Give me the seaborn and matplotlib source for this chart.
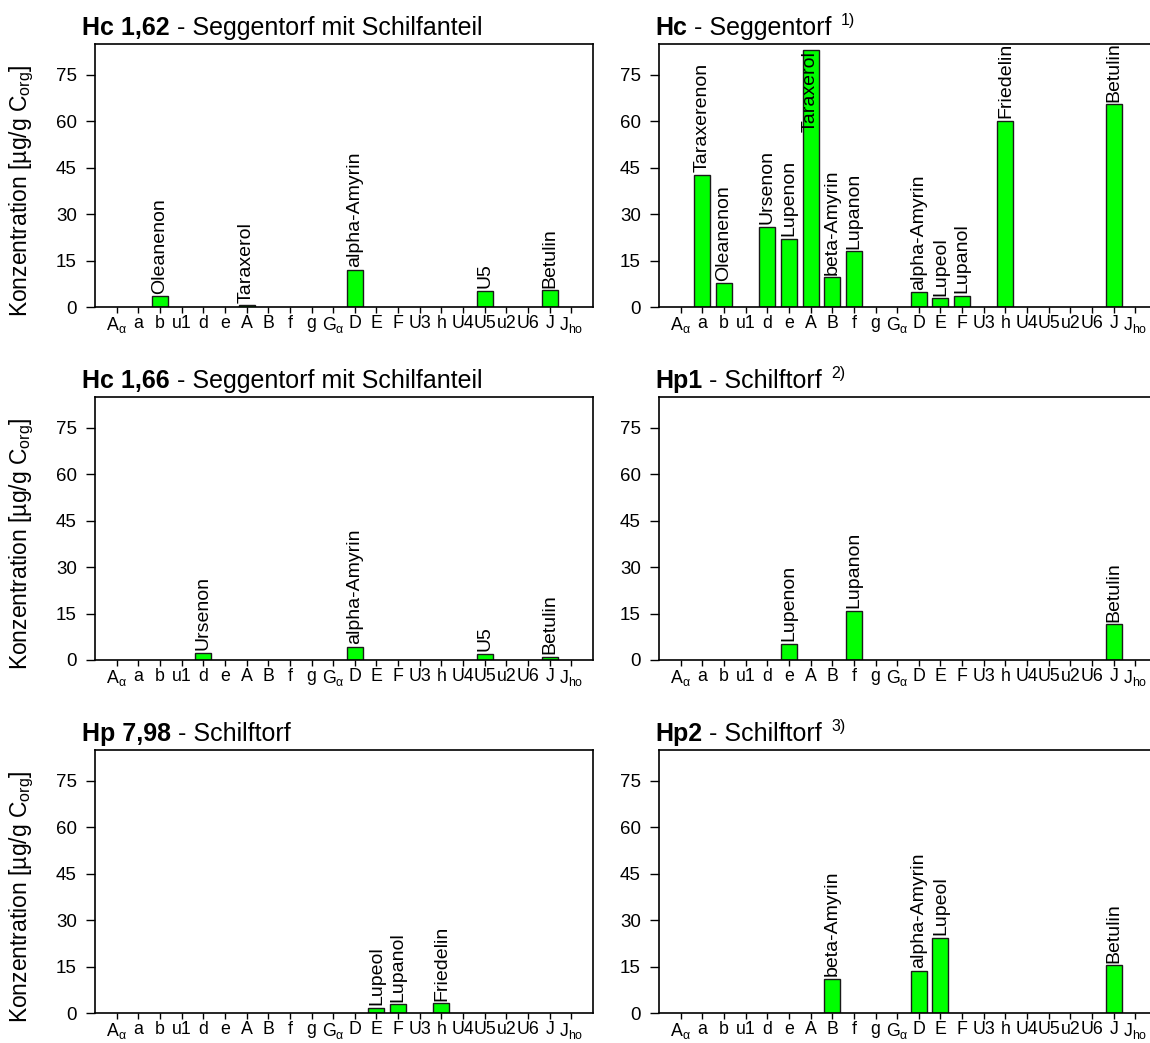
import numpy as np
import pandas as pd
import seaborn as sns
import matplotlib.pyplot as plt

sns.set_style("ticks")
plt.rcParams["font.family"] = ["Liberation Sans", "DejaVu Sans"]
plt.rcParams["mathtext.fontset"] = "custom"
plt.rcParams["mathtext.rm"] = "Liberation Sans"
plt.rcParams["mathtext.it"] = "Liberation Sans"
plt.rcParams["mathtext.default"] = "regular"
for key in ["text.color", "axes.labelcolor", "xtick.color", "ytick.color", "axes.edgecolor"]:
    plt.rcParams[key] = "black"

# Kategorien (Biomarker-Positionen) und Achsenbeschriftung
categories = ["Aα", "a", "b", "u1", "d", "e", "A", "B", "f", "g", "Gα",
              "D", "E", "F", "U3", "h", "U4", "U5", "u2", "U6", "J", "Jho"]
tick_labels = [r"A$_{α}$", "a", "b", "u1", "d", "e", "A", "B", "f", "g", r"G$_{α}$",
               "D", "E", "F", "U3", "h", "U4", "U5", "u2", "U6", "J", r"J$_{ho}$"]

# Hc 1,62
hc162_cat = ["b", "A", "D", "U5", "J"]
hc162_name = ["Oleanenon", "Taraxerol", "alpha-Amyrin", "U5", "Betulin"]
hc162_val = [3.5, 0.5, 12.1, 5.3, 5.5]

# Hc
hc_cat = ["a", "b", "d", "e", "A", "B", "f", "D", "E", "F", "h", "J"]
hc_name = ["Taraxerenon", "Oleanenon", "Ursenon", "Lupenon", "Taraxerol", "beta-Amyrin",
           "Lupanon", "alpha-Amyrin", "Lupeol", "Lupanol", "Friedelin", "Betulin"]
hc_val = [42.7, 7.7, 26.0, 22.0, 83.0, 9.6, 18.1, 4.8, 2.9, 3.6, 60.2, 65.6]

# Hc 1,66
hc166_cat = ["d", "D", "U5", "J"]
hc166_name = ["Ursenon", "alpha-Amyrin", "U5", "Betulin"]
hc166_val = [2.3, 4.3, 2.1, 1.0]

# Hp1
hp1_cat = ["e", "f", "J"]
hp1_name = ["Lupenon", "Lupanon", "Betulin"]
hp1_val = [5.2, 15.9, 11.6]

# Hp 7,98
hp798_cat = ["E", "F", "h"]
hp798_name = ["Lupeol", "Lupanol", "Friedelin"]
hp798_val = [1.7, 2.8, 3.1]

# Hp2
hp2_cat = ["B", "D", "E", "J"]
hp2_name = ["beta-Amyrin", "alpha-Amyrin", "Lupeol", "Betulin"]
hp2_val = [11.0, 13.7, 24.4, 15.4]

panels = [
    ("Hc 1,62", " - Seggentorf mit Schilfanteil", "", hc162_cat, hc162_name, hc162_val),
    ("Hc", " - Seggentorf", "1)", hc_cat, hc_name, hc_val),
    ("Hc 1,66", " - Seggentorf mit Schilfanteil", "", hc166_cat, hc166_name, hc166_val),
    ("Hp1", " - Schilftorf", "2)", hp1_cat, hp1_name, hp1_val),
    ("Hp 7,98", " - Schilftorf", "", hp798_cat, hp798_name, hp798_val),
    ("Hp2", " - Schilftorf", "3)", hp2_cat, hp2_name, hp2_val),
]

W, H = 1150, 1043
fig = plt.figure(figsize=(W / 100, H / 100), dpi=100)

col_left = [95, 659]
row_bottom = [307, 660, 1013]
ax_w, ax_h = 498, 263
ymax = 85

for i, (bold, rest, sup, cats, names, vals) in enumerate(panels):
    r, c = divmod(i, 2)
    ax = fig.add_axes([col_left[c] / W, 1 - row_bottom[r] / H, ax_w / W, ax_h / H])
    df = pd.DataFrame({"cat": cats, "val": vals})
    sns.barplot(data=df, x="cat", y="val", order=categories, color="#00ff00",
                saturation=1, edgecolor="#1a1a1a", linewidth=1.0, width=0.74, ax=ax)

    # Beschriftung senkrecht über dem Balken, bei zu hohen Balken im Balken
    for cat, name, v in zip(cats, names, vals):
        x = categories.index(cat)
        if v + 2.3 * len(name) > ymax:
            ax.text(x, v - 0.3, name, rotation=90, ha="center", va="top", fontsize=14)
        else:
            ax.text(x, v + 0.8, name, rotation=90, ha="center", va="bottom", fontsize=14)

    ax.set_xlim(-1, len(categories))
    ax.set_ylim(0, ymax)
    ax.set_yticks(np.arange(0, 76, 15))
    ax.set_xticks(range(len(categories)))
    ax.set_xticklabels(tick_labels)
    ax.tick_params(axis="x", length=4, width=1, pad=2, labelsize=12.8)
    ax.tick_params(axis="y", length=6.5, width=1, pad=6.5, labelsize=13.5)
    for sp in ax.spines.values():
        sp.set_visible(True)
        sp.set_linewidth(1.2)
    ax.set_xlabel("")
    if c == 0:
        ax.set_ylabel(r"Konzentration [µg/g C$_{org}$]", fontsize=16.5)
        ax.yaxis.set_label_coords(-0.118, 0.443)
    else:
        ax.set_ylabel("")

    tx = -0.026 if c == 0 else -0.008
    t1 = ax.text(tx, 1.034, bold, transform=ax.transAxes, fontsize=18,
                 fontweight="bold", va="baseline", ha="left")
    t2 = ax.annotate(rest, xy=(1, 0), xycoords=t1, fontsize=18, va="bottom", ha="left")
    if sup:
        ax.annotate(sup, xy=(1, 0.5), xycoords=t2, xytext=(7, 0), textcoords="offset points",
                    fontsize=11.5, va="bottom", ha="left")

fig.savefig("out.png", dpi=100)
